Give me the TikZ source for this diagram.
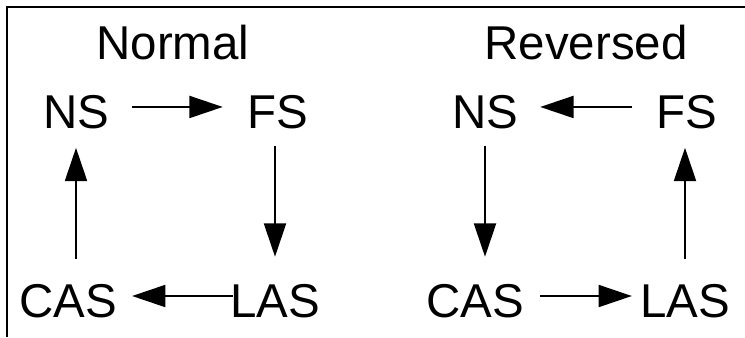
\documentclass[tikz,border=0pt]{standalone}
\usepackage{fontspec}
\setmainfont{Liberation Sans}
\usetikzlibrary{arrows.meta}

\begin{document}
\begin{tikzpicture}[x=0.75pt,y=-0.75pt,
		lbl/.style={font=\fontsize{35.6}{40}\selectfont,inner sep=0pt,text height=25.5pt,text depth=0pt},
		flow/.style={line width=1.5pt,-{Triangle[length=25pt,width=16.5pt]}}]
		\useasboundingbox (0,0) rectangle (745,337);
		\draw[line width=1.6pt] (7,337) -- (7,7) -- (745,7);
		% normal order
		\node[lbl] (normal) at (173,42.5) {Normal};
		\node[lbl] (ns) at (76,111.5) {NS};
		\node[lbl] (fs) at (278,111.5) {FS};
		\node[lbl] (cas) at (68,300) {CAS};
		\node[lbl] (las) at (275,300) {LAS};
		\draw[flow,shorten <=17pt,shorten >=18.5pt] ([yshift=3.4pt]ns.east) -- ([yshift=3.4pt]fs.west);
		\draw[flow,shorten <=12.75pt,shorten >=19.5pt] (fs.south -| las.north) -- (las.north);
		\draw[flow,shorten <=-2.25pt,shorten >=11.25pt] ([yshift=3pt]las.west) -- ([yshift=3pt]cas.east);
		\draw[flow,shorten <=18pt,shorten >=14.25pt] (cas.north -| ns.south) -- (ns.south);
		% reversed order
		\node[lbl] (reversed) at (586,42.5) {Reversed};
		\node[lbl] (ns2) at (485,111.5) {NS};
		\node[lbl] (fs2) at (687,111.5) {FS};
		\node[lbl] (cas2) at (475,300) {CAS};
		\node[lbl] (las2) at (685,300) {LAS};
		\draw[flow,shorten <=18pt,shorten >=16.5pt] ([yshift=3.4pt]fs2.west) -- ([yshift=3.4pt]ns2.east);
		\draw[flow,shorten <=12.75pt,shorten >=19.5pt] (ns2.south) -- (ns2.south |- cas2.north);
		\draw[flow,shorten <=12pt,shorten >=6pt] ([yshift=3pt]cas2.east) -- ([yshift=3pt]las2.west);
		\draw[flow,shorten <=18pt,shorten >=14.25pt] (las2.north) -- (las2.north |- fs2.south);
	\end{tikzpicture}
\end{document}
